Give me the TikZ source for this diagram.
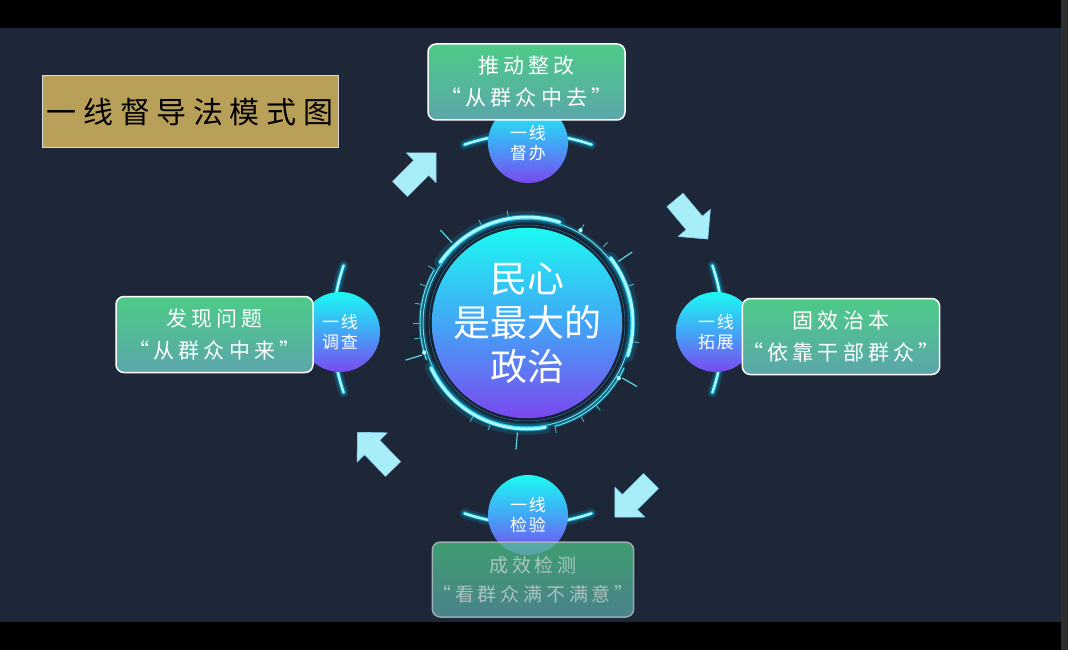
\documentclass[tikz,border=0pt]{standalone}
\usepackage{fontspec}
\newfontfamily\cjk{Noto Sans CJK SC}
\newfontfamily\cjkbox{Noto Sans CJK SC}[LetterSpace=20]
\newfontfamily\cjktitle{Noto Sans CJK SC}[LetterSpace=22]
\newfontfamily\cjksmall{Noto Sans CJK SC}[LetterSpace=10]
\definecolor{bgnavy}{HTML}{1D2738}
\definecolor{boxtop}{HTML}{4DCB87}
\definecolor{boxbot}{HTML}{5BA6AB}
\definecolor{cyantop}{HTML}{1CF9F2}
\definecolor{bluemid}{HTML}{42A6F6}
\definecolor{purplebot}{HTML}{7B48F0}
\definecolor{glowblue}{HTML}{00C8FF}
\definecolor{glowcore}{HTML}{A8FCFF}
\definecolor{ringdark}{HTML}{172234}
\definecolor{ringline}{HTML}{2A8FB0}
\definecolor{tickcol}{HTML}{5FE3F0}
\definecolor{arrowcyan}{HTML}{A8EEF9}
\definecolor{arrowedge}{HTML}{86D6EE}
\definecolor{titlegold}{HTML}{B9A058}
\definecolor{titleborder}{HTML}{D8D8D8}
\definecolor{fadeborder}{HTML}{B4BCC4}
\definecolor{fadetext}{HTML}{D0D8D8}
\definecolor{sidebar}{HTML}{2E2E30}
\tikzset{
  infobox/.style={draw=white, line width=1.5pt, rounded corners=8pt,
    minimum width=197pt, minimum height=76pt, inner sep=0pt,
    top color=boxtop, bottom color=boxbot, align=center, text=white,
    font=\fontsize{21}{32}\selectfont\cjkbox},
  badge/.style={circle, minimum size=80pt, inner sep=0pt,
    top color=cyantop, bottom color=purplebot, middle color=bluemid,
    align=center, text=white, font=\fontsize{17}{20}\selectfont\cjksmall},
  glowA/.style={line width=10pt, draw=glowblue, draw opacity=0.16, line cap=round},
  glowB/.style={line width=5pt, draw=glowblue, draw opacity=0.5, line cap=round},
  glowC/.style={line width=2.4pt, draw=glowcore, line cap=round},
  tickline/.style={draw=tickcol, line width=1.1pt},
  arrowbody/.style={fill=arrowcyan, draw=arrowedge, line width=0.6pt, line join=round},
  blockarrow/.pic={
    \path[arrowbody] (0,-10.5) -- (30,-10.5) -- (30,-21) -- (51,0)
      -- (30,21) -- (30,10.5) -- (0,10.5) -- cycle;
  }
}
\begin{document}
\begin{tikzpicture}[x=1pt,y=-1pt]
\useasboundingbox (0,0) rectangle (1068,650);
\fill[bgnavy] (0,0) rectangle (1068,650);

% ---------- glowing arcs through the four badges ----------
\coordinate (S) at (528,329);
\foreach \a/\b in {-71/-109, -19/19, 71/109, 161/199}{
  \draw[glowA] ([shift={(\a:195)}]S) arc[start angle=\a, end angle=\b, radius=195];
  \draw[glowB] ([shift={(\a:195)}]S) arc[start angle=\a, end angle=\b, radius=195];
  \draw[glowC] ([shift={(\a:195)}]S) arc[start angle=\a, end angle=\b, radius=195];
}

% ---------- central ring ----------
\coordinate (O) at (527,323);
\fill[ringdark] (O) circle (101);
\draw[ringline, line width=0.7pt] (O) circle (92);
\draw[ringline, line width=0.5pt, opacity=0.8] (O) circle (98);
\draw[glowblue, line width=5pt, opacity=0.22] (O) circle (104);
\draw[tickcol, line width=1pt] (O) circle (104);
\foreach \a/\b in {-72/-145, 18/-38, -205/-280}{
  \draw[glowA, line width=12pt] ([shift={(\a:106)}]O) arc[start angle=\a, end angle=\b, radius=106];
  \draw[glowB] ([shift={(\a:106)}]O) arc[start angle=\a, end angle=\b, radius=106];
  \draw[glowC, line width=3pt] ([shift={(\a:106)}]O) arc[start angle=\a, end angle=\b, radius=106];
}
\foreach \a/\b in {-150/-200, 25/75}{
  \draw[glowB, line width=3pt, draw opacity=0.3] ([shift={(\a:107)}]O) arc[start angle=\a, end angle=\b, radius=107];
  \draw[tickcol, line width=1pt] ([shift={(\a:107)}]O) arc[start angle=\a, end angle=\b, radius=107];
}
% long ticks
\foreach \a in {-133,-34,-197,30,95}{
  \draw[tickline] ([shift={(\a:110)}]O) -- ([shift={(\a:127)}]O);
}
% short ticks
\foreach \a in {-150,-160,-170,-180,-188,-60,-45,-20,10,50,60,75,110,120,-100,-115}{
  \draw[tickline, line width=0.8pt, opacity=0.8] ([shift={(\a:108)}]O) -- ([shift={(\a:114)}]O);
}
% bright dots
\foreach \a in {-60,-196,31}{
  \fill[glowcore] ([shift={(\a:107)}]O) circle (2.2);
}

% core disc
\node[circle, minimum size=174pt, inner sep=0pt,
  top color=cyantop, bottom color=purplebot, middle color=bluemid,
  align=center, text=white, font=\fontsize{37}{44}\selectfont\cjk] (core) at (O)
  {民心\\是最大的\\政治};

% ---------- badges ----------
\node[badge] (btop) at (528,143) {一线\\督办};
\node[badge] (bright) at (716,332) {一线\\拓展};
\node[badge] (bbot) at (528,515) {一线\\检验};
\node[badge] (bleft) at (340,332) {一线\\调查};

% ---------- info boxes ----------
\node[infobox] (itop) at (526.5,82) {推动整改\\“从群众中去”};
\node[infobox] (iright) at (841,336.5) {固效治本\\“依靠干部群众”};
\node[infobox] (ileft) at (214.5,334.5) {发现问题\\“从群众中来”};
\node[infobox, minimum width=198pt, minimum height=75pt,
  fill opacity=0.72, draw=fadeborder, draw opacity=0.8,
  text=fadetext, font=\fontsize{19}{29}\selectfont\cjkbox] (ibot) at (533,579.5)
  {成效检测\\“看群众满不满意”};

% ---------- title ----------
\node[draw=titleborder, line width=1pt, fill=titlegold, minimum width=296pt,
  minimum height=72pt, inner sep=0pt, text=black,
  font=\fontsize{30}{36}\selectfont\cjktitle] (title) at (190,112) {一线督导法模式图};

% ---------- block arrows ----------
\pic[rotate=45] (aul) at (400,189) {blockarrow};
\pic[rotate=-50] (aur) at (675,200) {blockarrow};
\pic[rotate=-135] (alr) at (651,481) {blockarrow};
\pic[rotate=134] (all) at (393,469) {blockarrow};

% ---------- frame bars ----------
\fill[black] (0,0) rectangle (1068,28);
\fill[black] (0,622) rectangle (1068,650);
\fill[sidebar] (1061,0) rectangle (1068,650);
\end{tikzpicture}
\end{document}
